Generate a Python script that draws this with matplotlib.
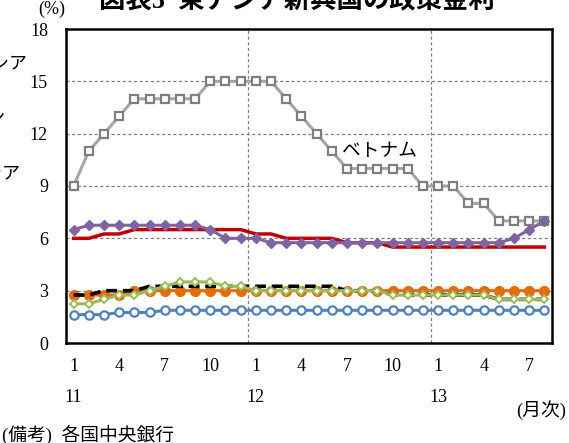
import matplotlib
matplotlib.use("Agg")
import matplotlib.pyplot as plt
import matplotlib.transforms as mtransforms

plt.rcParams['font.family'] = ['Liberation Serif', 'Noto Sans CJK JP']

# monthly, 2011/1 .. 2013/8
tick_pos = list(range(0, 32, 3))
tick_labels = ['1', '4', '7', '10', '1', '4', '7', '10', '1', '4', '7']
year_pos = [0, 12, 24]
year_labels = ['11', '12', '13']

vietnam = [9, 11, 12, 13, 14, 14, 14, 14, 14, 15, 15, 15, 15, 15, 14, 13,
           12, 11, 10, 10, 10, 10, 10, 9, 9, 9, 8, 8, 7, 7, 7, 7]
indonesia = [6.5] + [6.75] * 8 + [6.5, 6.0, 6.0, 6.0] + [5.75] * 16 + [6.0, 6.5, 7.0]
red_line = [6.0, 6.0, 6.25, 6.25] + [6.5] * 8 + [6.25, 6.25, 6.0, 6.0, 6.0, 6.0,
                                               5.75, 5.75, 5.75] + [5.5] * 11
malaysia = [2.75] * 4 + [3.0] * 28
korea = [2.75, 2.75, 3.0, 3.0, 3.0] + [3.25] * 13 + [3.0] * 3 + [2.75] * 7 + [2.5] * 4
thailand = [2.25, 2.25, 2.5, 2.75, 2.75, 3.0, 3.25, 3.5, 3.5, 3.5, 3.25, 3.25] \
    + [3.0] * 9 + [2.75] * 7 + [2.5] * 4
taiwan = [1.625] * 3 + [1.75] * 3 + [1.875] * 26

x = list(range(len(vietnam)))

W, H = 569, 443
fig = plt.figure(figsize=(W / 100, H / 100), dpi=100)
ax = fig.add_axes([66 / W, 1 - 343 / H, (552 - 66) / W, (343 - 29) / H])

ax.plot(x, taiwan, color='#4f81bd', lw=2.2, marker='o', ms=6, mfc='white',
        mec='#4f81bd', mew=1.6, zorder=3)
ax.plot(x, malaysia, color='#e46c0a', lw=2.2, marker='o', ms=7, mfc='#e46c0a',
        mec='#e46c0a', zorder=3)
ax.plot(x, korea, color='black', lw=2.6, dashes=(3, 1.6), zorder=4)
ax.plot(x, thailand, color='#9bbb59', lw=2.2, marker='D', ms=4.5, mfc='white',
        mec='#9bbb59', mew=1.4, zorder=5)
ax.plot(x, red_line, color='#c00000', lw=2.5, zorder=5)
ax.plot(x, vietnam, color='#a6a6a6', lw=2.2, marker='s', ms=6, mfc='white',
        mec='#7f7f7f', mew=1.6, zorder=6)
ax.plot(x, indonesia, color='#8064a2', lw=2.2, marker='D', ms=5.5, mfc='#8064a2',
        mec='#8064a2', zorder=7)

ax.set_xlim(-0.5, 31.5)
ax.set_ylim(0, 18)
ax.set_yticks(range(0, 19, 3))
ax.set_xticks(tick_pos)
ax.set_xticklabels(tick_labels)
ax.tick_params(length=0, labelsize=13)
ax.tick_params(axis='y', pad=13)
ax.tick_params(axis='x', pad=11)

for v in range(3, 18, 3):
    ax.axhline(v, color='#7f7f7f', lw=0.9, ls=(0, (2.5, 2)), zorder=1)
for v in (11.5, 23.5):
    ax.axvline(v, color='#7f7f7f', lw=0.9, ls=(0, (2.5, 2)), zorder=1)

for s in ax.spines.values():
    s.set_linewidth(1.8)
    s.set_color('black')

trans = mtransforms.blended_transform_factory(ax.transData, fig.transFigure)
for p, lab in zip(year_pos, year_labels):
    ax.text(p, 1 - 397 / H, lab, transform=trans, ha='center', va='center',
            fontsize=13)

ax.text(17.7, 11.0, 'ベトナム', fontsize=13.5, ha='left', va='center', zorder=8)

def fig_text(px, py, s, **kw):
    fig.text(px / W, 1 - py / H, s, **kw)

fig_text(297, 1, '図表5  東アジア新興国の政策金利', fontsize=19, fontweight='bold',
         ha='center', va='center')
fig_text(52, 9, '(%)', fontsize=13, ha='center', va='center')
fig_text(27, 65, 'インドネシア', fontsize=13, ha='right', va='center')
fig_text(5, 118, 'フィリピン', fontsize=13, ha='right', va='center')
fig_text(20, 175, 'マレーシア', fontsize=13, ha='right', va='center')
fig_text(566, 410, '(月次)', fontsize=13.5, ha='right', va='center')
fig_text(2, 435, '(備考)  各国中央銀行', fontsize=13.5, ha='left', va='center')

fig.savefig('out.png', dpi=100)
